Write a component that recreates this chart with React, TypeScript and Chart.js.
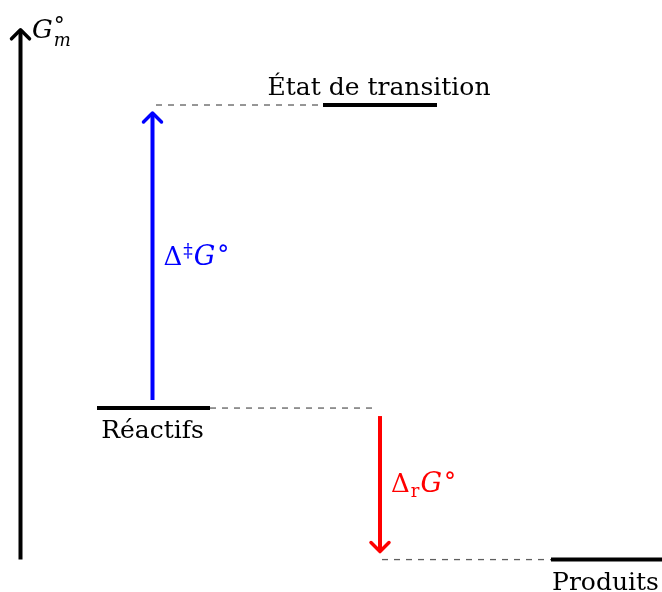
import React, { useEffect, useRef } from "react";
import { Chart, registerables } from "chart.js";

Chart.register(...registerables);

// ---- Data -------------------------------------------------------------
// Energy levels (standard molar Gibbs energy, arbitrary units)
const levelNames = ["Réactifs", "État de transition", "Produits"];
const levelEnergies = [0, 100, -50];
// Span of each level along the reaction coordinate
const levelStart = [97, 323, 551];
const levelEnd = [210, 437, 662];
const labelSide = ["below", "above", "below"];

// Dashed guide lines: which level, and span along reaction coordinate
const guideLevel = [0, 1, 2];
const guideStart = [210, 156, 382];
const guideEnd = [378, 323, 551];

// Arrows: position on reaction coordinate, energy from -> energy to
const arrowX = [152.5, 380];
const arrowFrom = [0, 0];
const arrowTo = [100, -50];
const arrowColors = ["#0000ff", "#ff0000"];

// Vertical G axis
const axisX = 20.5;
const axisBottom = -50;
const axisTop = 124.8;

// Scale ranges
const xMin = 0;
const xMax = 662;
const yMin = -60.7;
const yMax = 134.65;

const FONT = '"DejaVu Serif", "Liberation Serif", serif';

type Piece = {
  t: string;
  size: number;
  italic?: boolean;
  dy?: number;
  dx?: number;
  noAdvance?: boolean;
};

function drawPieces(ctx: CanvasRenderingContext2D, pieces: Piece[], x: number, y: number, color: string) {
  let cx = x;
  ctx.fillStyle = color;
  ctx.textBaseline = "alphabetic";
  ctx.textAlign = "left";
  for (const p of pieces) {
    ctx.font = `${p.italic ? "italic " : ""}${p.size}px ${FONT}`;
    ctx.fillText(p.t, cx + (p.dx || 0), y + (p.dy || 0));
    if (!p.noAdvance) cx += ctx.measureText(p.t).width + (p.dx || 0);
  }
}

const arrowLabels: Piece[][] = [
  [
    { t: "Δ", size: 26 },
    { t: "‡", size: 19, dy: -8, dx: 1 },
    { t: "G", size: 27, italic: true, dx: 1 },
    { t: "°", size: 24, dy: -2, dx: 2 },
  ],
  [
    { t: "Δ", size: 26 },
    { t: "r", size: 18, dy: 5, dx: 1 },
    { t: "G", size: 27, italic: true, dx: 1 },
    { t: "°", size: 24, dy: -2, dx: 2 },
  ],
];

const axisLabel: Piece[] = [
  { t: "G", size: 26, italic: true },
  { t: "°", size: 22, dy: -5, dx: 1, noAdvance: true },
  { t: "m", size: 18, italic: true, dy: 7.5, dx: 1 },
];

function chevron(ctx: CanvasRenderingContext2D, x: number, tipY: number, dir: number, color: string) {
  // dir = -1 means arrow points up, +1 down
  ctx.save();
  ctx.strokeStyle = color;
  ctx.lineWidth = 3.5;
  ctx.lineCap = "round";
  ctx.lineJoin = "round";
  ctx.beginPath();
  ctx.moveTo(x - 9, tipY - dir * 9);
  ctx.lineTo(x, tipY);
  ctx.lineTo(x + 9, tipY - dir * 9);
  ctx.stroke();
  ctx.restore();
}

const diagramPlugin = {
  id: "diagram",
  afterDatasetsDraw(chart: any) {
    const ctx: CanvasRenderingContext2D = chart.ctx;
    const xs = chart.scales.x;
    const ys = chart.scales.y;

    // G axis with arrow
    {
      const px = xs.getPixelForValue(axisX);
      const pb = ys.getPixelForValue(axisBottom);
      const pt = ys.getPixelForValue(axisTop);
      ctx.save();
      ctx.strokeStyle = "#000";
      ctx.lineWidth = 4;
      ctx.lineCap = "butt";
      ctx.beginPath();
      ctx.moveTo(px, pb);
      ctx.lineTo(px, pt + 2);
      ctx.stroke();
      ctx.restore();
      chevron(ctx, px, pt, -1, "#000");
      drawPieces(ctx, axisLabel, px + 11.5, pt + 8.5, "#000");
    }

    // Energy difference arrows
    const gap = 8;
    for (let i = 0; i < arrowX.length; i++) {
      const px = xs.getPixelForValue(arrowX[i]);
      const p0 = ys.getPixelForValue(arrowFrom[i]);
      const p1 = ys.getPixelForValue(arrowTo[i]);
      const dir = p1 > p0 ? 1 : -1;
      const start = p0 + dir * gap;
      const tip = p1 - dir * gap;
      ctx.save();
      ctx.strokeStyle = arrowColors[i];
      ctx.lineWidth = 4;
      ctx.lineCap = "butt";
      ctx.beginPath();
      ctx.moveTo(px, start);
      ctx.lineTo(px, tip - dir * 2);
      ctx.stroke();
      ctx.restore();
      chevron(ctx, px, tip, dir, arrowColors[i]);
      const mid = (start + tip) / 2;
      drawPieces(ctx, arrowLabels[i], px + 11, mid + 8.5, arrowColors[i]);
    }

    // Level names
    ctx.save();
    ctx.fillStyle = "#000";
    ctx.font = `25px ${FONT}`;
    ctx.textAlign = "center";
    ctx.textBaseline = "alphabetic";
    for (let i = 0; i < levelNames.length; i++) {
      const cx = (xs.getPixelForValue(levelStart[i]) + xs.getPixelForValue(levelEnd[i])) / 2;
      const py = ys.getPixelForValue(levelEnergies[i]);
      const by = labelSide[i] === "above" ? py - 10 : py + 30;
      ctx.fillText(levelNames[i], cx - 1, by);
    }
    ctx.restore();
  },
};

export default function App() {
  const canvasRef = useRef<HTMLCanvasElement | null>(null);

  useEffect(() => {
    if (!canvasRef.current) return;

    const datasets: any[] = [];
    for (let i = 0; i < guideLevel.length; i++) {
      const e = levelEnergies[guideLevel[i]];
      datasets.push({
        label: "guide " + i,
        data: [
          { x: guideStart[i], y: e },
          { x: guideEnd[i], y: e },
        ],
        borderColor: "#5f5f5f",
        borderWidth: 1.3,
        borderDash: [6, 6],
        pointRadius: 0,
        fill: false,
      });
    }
    for (let i = 0; i < levelNames.length; i++) {
      datasets.push({
        label: levelNames[i],
        data: [
          { x: levelStart[i], y: levelEnergies[i] },
          { x: levelEnd[i], y: levelEnergies[i] },
        ],
        borderColor: "#000",
        borderWidth: 4,
        borderCapStyle: "butt",
        pointRadius: 0,
        fill: false,
      });
    }

    const chart = new Chart(canvasRef.current, {
      type: "line",
      data: { datasets },
      options: {
        responsive: false,
        animation: false,
        events: [],
        layout: { padding: 0 },
        plugins: {
          legend: { display: false },
          tooltip: { enabled: false },
          title: { display: false },
        },
        scales: {
          x: { type: "linear", min: xMin, max: xMax, display: false },
          y: { type: "linear", min: yMin, max: yMax, display: false },
        },
        elements: { line: { tension: 0 } },
      },
      plugins: [diagramPlugin],
    } as any);

    return () => chart.destroy();
  }, []);

  return (
    <div style={{ position: "absolute", left: 0, top: 0, width: 662, height: 592, background: "#fff" }}>
      <canvas ref={canvasRef} width={662} height={592} style={{ display: "block" }} />
    </div>
  );
}
